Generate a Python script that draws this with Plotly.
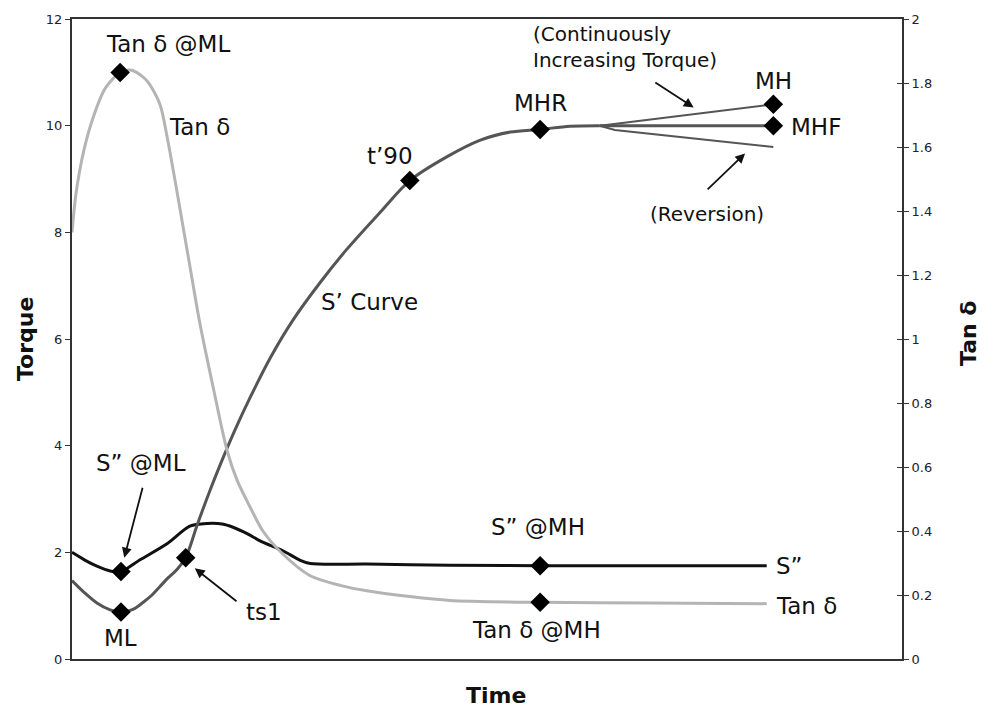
import plotly.graph_objects as go

# ---------------- data (time in arbitrary units 0-100) ----------------
# S' (elastic torque) main curve
s1_time = [0, 1.45, 3.0, 4.6, 5.9, 7.35, 8.55, 9.64, 10.6, 11.57, 12.65, 13.7, 15.05, 16.6, 17.8,
           19.6, 21.45, 23.9, 26.6, 29.9, 33.1, 37.1, 40.7, 45.2, 49.2, 52.8, 56.4, 60.0, 63.6]
s1_torque = [1.47, 1.25, 1.05, 0.92, 0.88, 0.93, 1.06, 1.20, 1.36, 1.52, 1.68, 1.90, 2.50, 3.15,
             3.62, 4.28, 4.90, 5.65, 6.35, 7.06, 7.68, 8.37, 8.97, 9.42, 9.73, 9.88, 9.93, 9.99,
             10.0]

# branches after the plateau
mh_time = [63.6, 84.5]
mh_torque = [10.0, 10.4]
mhf_time = [63.6, 84.5]
mhf_torque = [10.0, 10.0]
rev_time = [63.6, 65.4, 84.5]
rev_torque = [10.0, 9.92, 9.6]

# S'' (viscous torque)
s2_time = [0, 1.6, 3.0, 4.6, 5.9, 8.2, 11.45, 14.2, 16.3, 18.1, 19.4, 21.1, 22.7, 25.4,
           27.5, 28.7, 35.5, 45.5, 56.4, 83.7]
s2_torque = [2.00, 1.85, 1.74, 1.65, 1.64, 1.86, 2.16, 2.49, 2.54, 2.53, 2.47, 2.35, 2.21, 2.03,
             1.85, 1.79, 1.78, 1.76, 1.75, 1.75]

# Tan delta (right axis)
td_time = [0, 0.5, 1.45, 2.65, 4.0, 5.8, 7.2, 9.0, 10.6, 11.45, 12.5, 13.5, 14.5, 15.4, 17.0,
           18.7, 19.9, 21.45, 23.0, 25.4, 28.7, 32.3, 35.5, 40.7, 45.5, 56.4, 69.6, 83.7]
td_value = [1.333, 1.458, 1.592, 1.70, 1.783, 1.833, 1.84, 1.808, 1.733, 1.633, 1.483, 1.333,
            1.183, 1.05, 0.85, 0.65, 0.558, 0.475, 0.40, 0.328, 0.26, 0.23, 0.213, 0.195,
            0.183, 0.177, 0.175, 0.173]

# characteristic points
torque_pt_names = ["ML", "ts1", "t'90", "MHR", "MH", "MHF", "S'' @ML", "S'' @MH"]
torque_pt_time = [5.9, 13.7, 40.7, 56.4, 84.5, 84.5, 5.9, 56.4]
torque_pt_value = [0.88, 1.90, 8.97, 9.93, 10.4, 10.0, 1.64, 1.75]
td_pt_names = ["Tan δ @ML", "Tan δ @MH"]
td_pt_time = [5.8, 56.4]
td_pt_value = [1.833, 0.177]

left_ticks = [0, 2, 4, 6, 8, 10, 12]
right_ticks = [0, 0.2, 0.4, 0.6, 0.8, 1, 1.2, 1.4, 1.6, 1.8, 2]

# ---------------- figure ----------------
FONT = "DejaVu Sans"
fig = go.Figure()

fig.add_trace(go.Scatter(x=td_time, y=td_value, yaxis="y2", mode="lines",
                         line=dict(color="#b4b4b4", width=3, shape="spline", smoothing=0.8),
                         hoverinfo="skip"))
fig.add_trace(go.Scatter(x=s2_time, y=s2_torque, mode="lines",
                         line=dict(color="#111111", width=3, shape="spline", smoothing=0.8),
                         hoverinfo="skip"))
fig.add_trace(go.Scatter(x=mh_time, y=mh_torque, mode="lines",
                         line=dict(color="#555555", width=2), hoverinfo="skip"))
fig.add_trace(go.Scatter(x=rev_time, y=rev_torque, mode="lines",
                         line=dict(color="#555555", width=2), hoverinfo="skip"))
fig.add_trace(go.Scatter(x=mhf_time, y=mhf_torque, mode="lines",
                         line=dict(color="#555555", width=3), hoverinfo="skip"))
fig.add_trace(go.Scatter(x=s1_time, y=s1_torque, mode="lines",
                         line=dict(color="#555555", width=3, shape="spline", smoothing=0.9),
                         hoverinfo="skip"))

fig.add_trace(go.Scatter(x=torque_pt_time, y=torque_pt_value, mode="markers",
                         text=torque_pt_names,
                         marker=dict(symbol="diamond", size=15, color="black")))
fig.add_trace(go.Scatter(x=td_pt_time, y=td_pt_value, yaxis="y2", mode="markers",
                         text=td_pt_names,
                         marker=dict(symbol="diamond", size=15, color="black")))

# ---------------- labels ----------------
labels = [
    ("Tan δ @ML", 11.57, 11.53, "center", 23),
    ("Tan δ", 15.4, 9.97, "center", 23),
    ("S’ Curve", 35.9, 6.69, "center", 23),
    ("t’90", 38.3, 9.43, "center", 23),
    ("MHR", 56.4, 10.42, "center", 23),
    ("MH", 84.46, 10.84, "center", 23),
    ("MHF", 86.4, 9.97, "left", 23),
    ("S” @ML", 8.3, 3.67, "center", 23),
    ("ML", 5.9, 0.39, "center", 23),
    ("ts1", 23.1, 0.89, "center", 23),
    ("S” @MH", 56.1, 2.48, "center", 23),
    ("S”", 84.6, 1.75, "left", 23),
    ("Tan δ", 84.6, 1.0, "left", 23),
    ("Tan δ @MH", 56.0, 0.54, "center", 23),
    ("(Reversion)", 76.5, 8.35, "center", 20),
]
annotations = []
for txt, x, y, anc, sz in labels:
    annotations.append(dict(text=txt, x=x, y=y, xref="x", yref="y", xanchor=anc,
                            yanchor="middle", showarrow=False,
                            font=dict(family=FONT, size=sz, color="#111")))
annotations.append(dict(text="(Continuously<br>Increasing Torque)", x=55.3, y=11.48,
                        xref="x", yref="y", xanchor="left", yanchor="middle", align="left",
                        showarrow=False, font=dict(family=FONT, size=20, color="#111")))

arrows = [
    # (head x, head y, tail x, tail y)
    (6.3, 1.90, 8.55, 3.24),
    (14.8, 1.70, 20.0, 1.06),
    (74.9, 10.34, 70.1, 10.83),
    (81.1, 9.48, 76.4, 8.78),
]
for hx, hy, tx, ty in arrows:
    annotations.append(dict(x=hx, y=hy, ax=tx, ay=ty, xref="x", yref="y", axref="x",
                            ayref="y", text="", showarrow=True, arrowhead=2,
                            arrowsize=1.1, arrowwidth=1.8, arrowcolor="#111"))

# axis titles
annotations.append(dict(text="<b>Torque</b>", xref="paper", yref="paper", x=0, y=0.5,
                        xanchor="center", yanchor="middle",
                        xshift=-47, textangle=-90, showarrow=False,
                        font=dict(family=FONT, size=22, color="#111")))
annotations.append(dict(text="<b>Tan δ</b>", xref="paper", yref="paper", x=1, y=0.5,
                        xanchor="center", yanchor="middle",
                        xshift=66, yshift=5, textangle=-90, showarrow=False,
                        font=dict(family=FONT, size=22, color="#111")))
annotations.append(dict(text="<b>Time</b>", xref="paper", yref="paper", x=0.511, y=0,
                        xanchor="center", yanchor="middle",
                        yshift=-36, showarrow=False,
                        font=dict(family=FONT, size=22, color="#111")))

axis_common = dict(showgrid=False, zeroline=False, linecolor="#333", linewidth=2,
                   tickcolor="#333", tickfont=dict(family=FONT, size=13, color="#222"))

fig.update_layout(
    width=985, height=711,
    margin=dict(l=72, r=83, t=15, b=52),
    paper_bgcolor="white", plot_bgcolor="white",
    showlegend=False,
    annotations=annotations,
    xaxis=dict(range=[0, 100], showline=True, mirror=True, linecolor="#333", linewidth=2,
               showticklabels=False, ticks="", showgrid=False, zeroline=False),
    yaxis=dict(range=[0, 12], tickvals=left_ticks, ticks="outside", ticklen=5,
               showline=True, **axis_common),
    yaxis2=dict(range=[0, 2], tickvals=right_ticks, overlaying="y", side="right",
                ticks="outside", ticklen=5, showline=True, **axis_common),
    yaxis3=dict(range=[0, 2], tickvals=right_ticks, overlaying="y", side="right",
                ticks="inside", ticklen=5, showline=False, showticklabels=False,
                showgrid=False, zeroline=False, tickcolor="#333"),
)
# dummy trace to show yaxis3 ticks
fig.add_trace(go.Scatter(x=[None], y=[None], yaxis="y3", hoverinfo="skip"))

fig.write_html("out.html", config={"displayModeBar": False},
               post_script="document.body.style.margin='0';")
